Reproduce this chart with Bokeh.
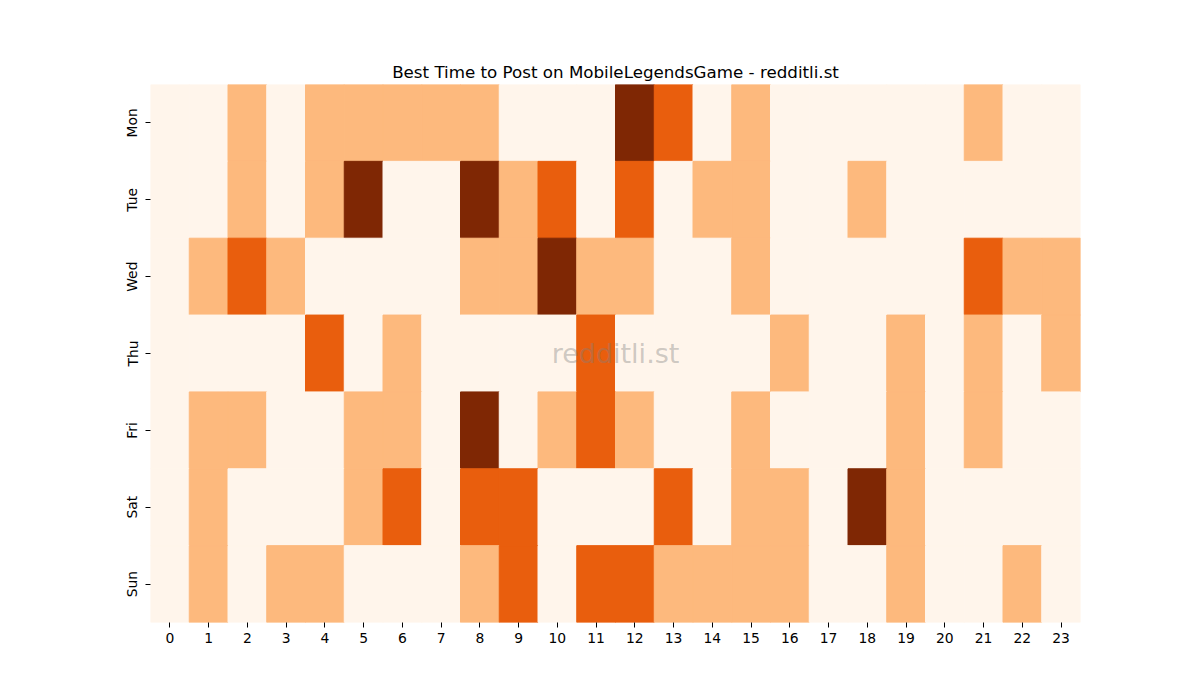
from bokeh.plotting import figure
from bokeh.models import FactorRange, Label, ColumnDataSource
from bokeh.transform import linear_cmap
from bokeh.embed import file_html
from bokeh.resources import INLINE

# activity level per hour (0 = quiet ... 3 = best time)
days = ["Mon", "Tue", "Wed", "Thu", "Fri", "Sat", "Sun"]
hours = [str(h) for h in range(24)]

mon = [0, 0, 1, 0, 1, 1, 1, 1, 1, 0, 0, 0, 3, 2, 0, 1, 0, 0, 0, 0, 0, 1, 0, 0]
tue = [0, 0, 1, 0, 1, 3, 0, 0, 3, 1, 2, 0, 2, 0, 1, 1, 0, 0, 1, 0, 0, 0, 0, 0]
wed = [0, 1, 2, 1, 0, 0, 0, 0, 1, 1, 3, 1, 1, 0, 0, 1, 0, 0, 0, 0, 0, 2, 1, 1]
thu = [0, 0, 0, 0, 2, 0, 1, 0, 0, 0, 0, 2, 0, 0, 0, 0, 1, 0, 0, 1, 0, 1, 0, 1]
fri = [0, 1, 1, 0, 0, 1, 1, 0, 3, 0, 1, 2, 1, 0, 0, 1, 0, 0, 0, 1, 0, 1, 0, 0]
sat = [0, 1, 0, 0, 0, 1, 2, 0, 2, 2, 0, 0, 0, 2, 0, 1, 1, 0, 3, 1, 0, 0, 0, 0]
sun = [0, 1, 0, 1, 1, 0, 0, 0, 1, 2, 0, 2, 2, 1, 1, 1, 1, 0, 0, 1, 0, 0, 1, 0]

rows = [mon, tue, wed, thu, fri, sat, sun]

# matplotlib "Oranges" sampled at 4 levels
palette = ["#fff5eb", "#fdb97d", "#e95e0d", "#7f2704"]

xs, ys, vals = [], [], []
for day, row in zip(days, rows):
    for h, v in zip(hours, row):
        xs.append(h)
        ys.append(day)
        vals.append(v)

src = ColumnDataSource(dict(x=xs, y=ys, v=vals))

p = figure(width=1184, height=684,
           x_range=FactorRange(*hours),
           y_range=FactorRange(*reversed(days)),
           title="Best Time to Post on MobileLegendsGame - redditli.st",
           toolbar_location=None, tools="", output_backend="svg",
           min_border_left=150, min_border_right=104,
           min_border_top=84, min_border_bottom=62)

cmap = linear_cmap("v", palette, 0, 3)
p.rect(x="x", y="y", width=1, height=1, source=src,
       fill_color=cmap, line_color=cmap, line_width=1)

# watermark
p.add_layout(Label(x=12, y=3.5, text="redditli.st", text_align="center",
                   text_baseline="middle", text_font="DejaVu Sans",
                   text_font_size="27px", text_color="gray", text_alpha=0.4))

p.title.align = "center"
p.title.text_font = "DejaVu Sans"
p.title.text_font_size = "16.7px"
p.title.text_font_style = "normal"
p.title.text_color = "black"
p.title.standoff = 5

p.outline_line_color = None
p.xgrid.grid_line_color = None
p.ygrid.grid_line_color = None

for ax in (p.xaxis, p.yaxis):
    ax.axis_line_color = None
    ax.major_tick_in = 0
    ax.major_tick_out = 5
    ax.major_tick_line_color = "black"
    ax.minor_tick_line_color = None
    ax.major_label_text_font = "DejaVu Sans"
    ax.major_label_text_font_size = "13.9px"
    ax.major_label_text_color = "black"
    ax.major_label_standoff = 5

p.yaxis.major_label_orientation = "vertical"

open("out.html", "w").write(file_html(p, INLINE))
